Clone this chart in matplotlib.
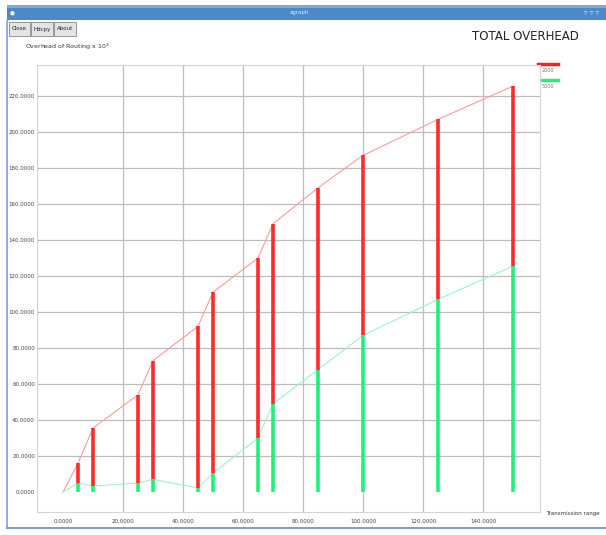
import numpy as np
import matplotlib.pyplot as plt
from matplotlib.patches import Rectangle

# transmission range vs overhead (x 10^3)
ranges = [0, 5, 10, 25, 30, 45, 50, 65, 70, 85, 100, 125, 150]
total_red = [0, 16, 35.5, 54, 73, 92, 111, 130, 149, 169, 187, 207, 225.5]
total_green = [0, 5, 3.3, 5, 7, 2.2, 10.5, 30, 49, 68, 87, 107, 125.5]
series_names = ["2000", "5000"]
x_ticks = [0, 20, 40, 60, 80, 100, 120, 140]
y_ticks = [0, 20, 40, 60, 80, 100, 120, 140, 160, 180, 200, 220]

W, H = 606, 535
fig = plt.figure(figsize=(W / 100, H / 100), dpi=100)
fig.patch.set_facecolor("white")

# window chrome, drawn in pixel coords
bg = fig.add_axes([0, 0, 1, 1], zorder=-1)
bg.set_xlim(0, W)
bg.set_ylim(H, 0)
bg.axis("off")
bg.add_patch(Rectangle((7, 5), W - 7, 15, color="#4d88c9", lw=0))
bg.add_patch(Rectangle((7, 5), W - 7, 3, color="#7aa9dc", lw=0))
bg.add_patch(Rectangle((6, 20), 2, 509, color="#8fb3dd", lw=0))
bg.add_patch(Rectangle((6, 527), W - 6, 2, color="#7d9fc8", lw=0))
bg.text(12, 12.5, "\u25cf", color="white", fontsize=4, ha="center", va="center")
bg.text(300, 12.5, "xgraph", color="#dfe9f5", fontsize=4, ha="center", va="center")
bg.text(592, 12.5, "\u25bf \u25bf \u25bf", color="#dfe9f5", fontsize=5, ha="center", va="center")
for bx, bw, lab in [(9, 21, "Close"), (31, 22, "Hdcpy"), (54, 22, "About")]:
    bg.add_patch(Rectangle((bx, 22), bw, 14, facecolor="#e4e4e4",
                           edgecolor="#888888", lw=0.6))
    bg.text(bx + bw / 2, 29, lab, fontsize=4, ha="center", va="center", color="#222222")
bg.text(25, 47, "Overhead of Routing x 10$^3$", fontsize=4.5, ha="left", va="center",
        color="#333333")
bg.text(472, 36, "TOTAL OVERHEAD", fontsize=8.5, ha="left", va="center", color="#222222")
bg.text(546, 513, "Transmission range", fontsize=4, ha="left", va="center",
        color="#333333")

# legend
bg.plot([538, 558], [64, 64], color="#ff2020", lw=2.5)
bg.text(548, 70, series_names[0], fontsize=3.5, ha="center", va="center", color="#777777")
bg.plot([538, 558], [80, 80], color="#20f080", lw=2.5)
bg.text(548, 86, series_names[1], fontsize=3.5, ha="center", va="center", color="#777777")

# plot area
left, right, top, bottom = 37, 540, 65, 512
ax = fig.add_axes([left / W, 1 - bottom / H, (right - left) / W, (bottom - top) / H])
x0_px, xscale = 63, 3.0
y0_px, yscale = 492, 1.8
ax.set_xlim((left - x0_px) / xscale, (right - x0_px) / xscale)
ax.set_ylim((y0_px - bottom) / yscale, (y0_px - top) / yscale)

for t in x_ticks[1:]:
    ax.axvline(t, color="#bdbdbd", lw=0.9, zorder=0)
for t in y_ticks[1:]:
    ax.axhline(t, color="#bdbdbd", lw=0.9, zorder=0)

ax.plot(ranges, total_red, color="#ff9a9a", lw=0.8, zorder=2)
ax.plot(ranges, total_green, color="#9cf5c2", lw=0.8, zorder=2)
ax.vlines(ranges[1:], total_green[1:], total_red[1:], color="#ff2a2a", lw=2.6, zorder=3)
ax.vlines(ranges[1:], 0, total_green[1:], color="#1ef07a", lw=2.6, zorder=3)

ax.set_xticks(x_ticks)
ax.set_xticklabels([f"{t:.4f}" for t in x_ticks])
ax.set_yticks(y_ticks)
ax.set_yticklabels([f"{t:.4f}" for t in y_ticks])
ax.tick_params(length=0, labelsize=4, colors="#444444", pad=5)
ax.tick_params(axis="y", pad=1.5)
for s in ax.spines.values():
    s.set_color("#d4d4d4")
    s.set_linewidth(0.8)

fig.savefig("out.png", dpi=100)
